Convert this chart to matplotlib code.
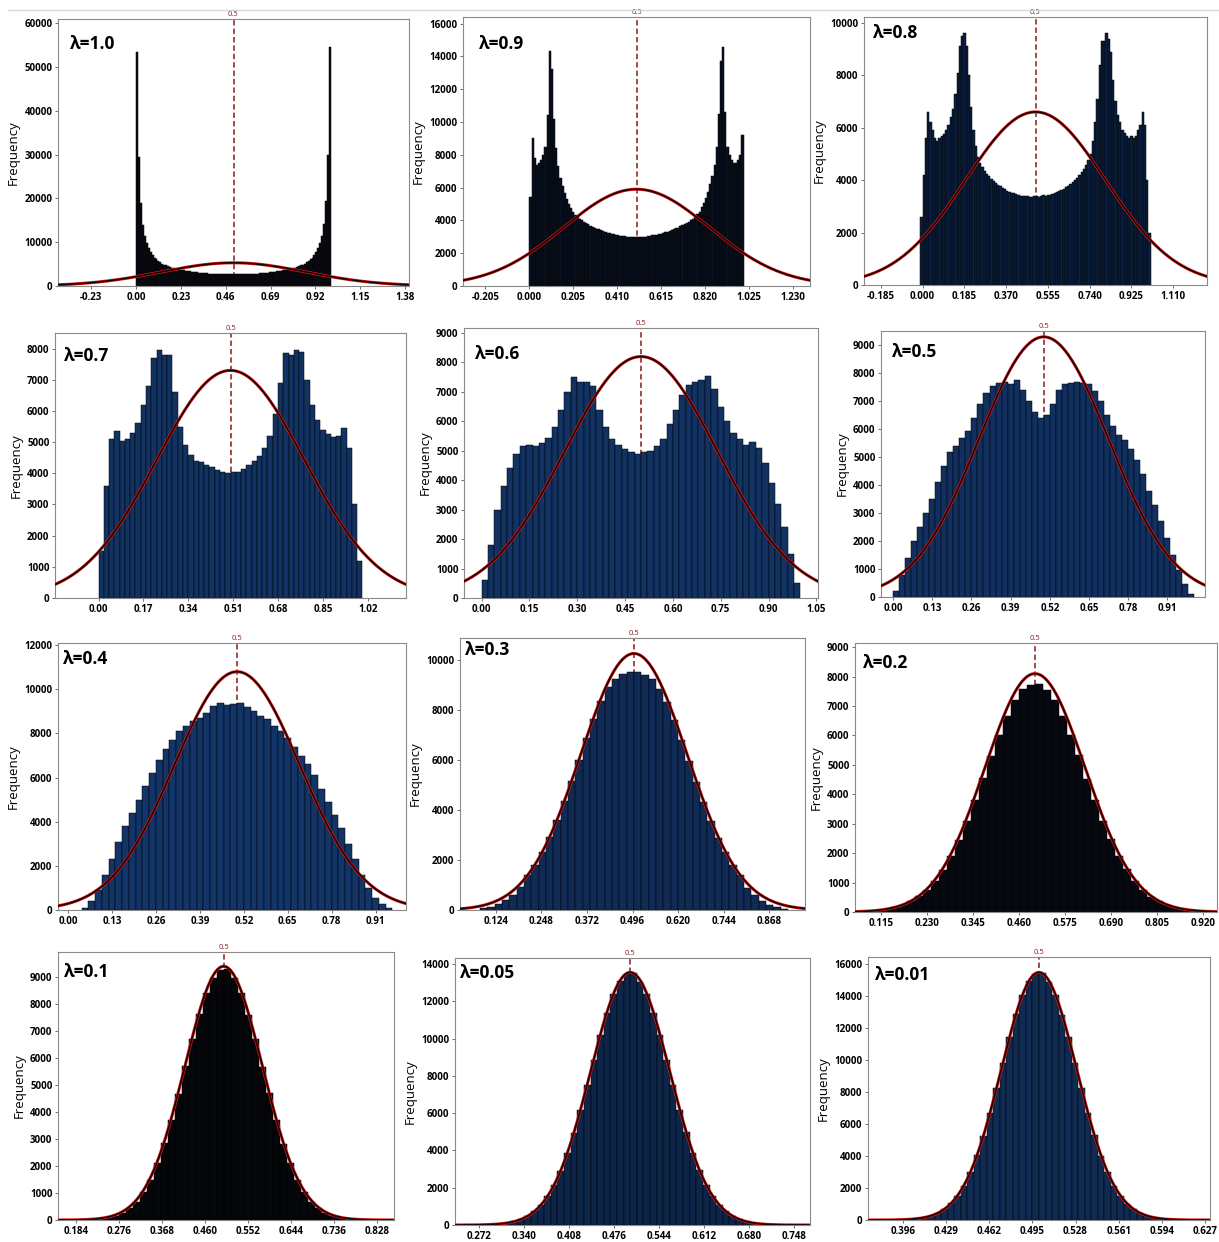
import numpy as np
import matplotlib.pyplot as plt
from matplotlib.lines import Line2D
from matplotlib.ticker import MultipleLocator, FormatStrFormatter

plt.rcParams['font.family'] = ['Open Sans', 'DejaVu Sans']
narrow = ['Liberation Sans Narrow', 'Open Sans', 'DejaVu Sans']

W, H = 1219, 1242

lambdas = ["1.0", "0.9", "0.8", "0.7", "0.6", "0.5",
           "0.4", "0.3", "0.2", "0.1", "0.05", "0.01"]

# first bin edge and bin width of each histogram
bin_start = [0.0, 0.0, -0.01, 0.0, 0.0, 0.0, 0.04, 0.08, 0.10, 0.20, 0.29, 0.395]
bin_width = [0.01, 0.01, 0.01, 0.02, 0.02, 0.02, 0.02, 0.02, 0.02, 0.015, 0.01, 0.005]

counts_10 = [53500, 29500, 19000, 14000, 11500, 9800, 8600, 7700, 7000, 6500,
             6100, 5700, 5400, 5100, 4900, 4700, 4500, 4350, 4200, 4050,
             3950, 3850, 3750, 3650, 3550, 3480, 3400, 3330, 3270, 3200,
             3150, 3100, 3050, 3000, 2960, 2920, 2880, 2850, 2820, 2790,
             2770, 2750, 2730, 2710, 2700, 2690, 2680, 2670, 2660, 2650,
             2640, 2650, 2660, 2670, 2690, 2700, 2710, 2730, 2750, 2770,
             2800, 2820, 2850, 2880, 2910, 2950, 3000, 3050, 3100, 3150,
             3200, 3260, 3330, 3400, 3470, 3550, 3640, 3740, 3840, 3950,
             4050, 4200, 4350, 4500, 4700, 4900, 5100, 5400, 5700, 6100,
             6500, 7000, 7700, 8600, 9800, 11500, 14200, 19500, 30000, 54500]

counts_09 = [5400, 9000, 7800, 7400, 7500, 7700, 8000, 8500, 10400, 14300,
             13200, 10200, 8400, 7300, 6600, 6100, 5700, 5300, 5000, 4750,
             4500, 4350, 4200, 4100, 4000, 3900, 3820, 3750, 3680, 3620,
             3560, 3500, 3450, 3400, 3350, 3300, 3260, 3220, 3180, 3150,
             3120, 3090, 3070, 3050, 3030, 3010, 3000, 2990, 2980, 2970,
             2980, 2970, 3000, 3010, 3000, 3040, 3050, 3080, 3090, 3130,
             3150, 3190, 3220, 3270, 3300, 3360, 3400, 3460, 3510, 3560,
             3630, 3690, 3760, 3830, 3910, 4010, 4110, 4220, 4360, 4520,
             4800, 5050, 5350, 5750, 6200, 6700, 7400, 8500, 10500, 13700,
             14600, 10600, 8500, 8000, 7700, 7500, 7500, 7700, 8000, 9200]

counts_08 = [2600, 4200, 5600, 6600, 6200, 5900, 5600, 5500, 5600, 5700,
             5750, 5900, 6100, 6400, 6700, 7300, 8100, 9100, 9500, 9600,
             9100, 8000, 6800, 5900, 5300, 4900, 4650, 4500, 4350, 4250,
             4150, 4050, 3980, 3900, 3830, 3760, 3700, 3650, 3600, 3560,
             3520, 3490, 3460, 3430, 3410, 3390, 3400, 3380, 3370, 3360,
             3380,
             3400, 3370, 3390, 3420, 3410, 3450, 3430, 3480, 3500, 3530,
             3570, 3610, 3660, 3720, 3780, 3850, 3920, 4000, 4080, 4180,
             4300, 4420, 4560, 4750, 5000, 5500, 6200, 7100, 8400, 9300,
             9300, 9600, 9400, 8900, 7800, 7000, 6500, 6200, 5900, 5800,
             5700, 5600, 5700, 5600, 5700, 5900, 6100, 6600, 6100, 4000,
             2000]

counts_07 = [1500, 3600, 5100, 5350, 5050, 5100, 5300, 5600, 6200, 6800,
             7700, 7950, 7800, 7800, 6600, 5500, 4900, 4600, 4400, 4350,
             4250, 4200, 4100, 4050, 4000, 4050, 4050, 4150, 4250, 4400,
             4550, 4800, 5200, 5900, 6900, 7850, 7800, 7950, 7900, 7000,
             6200, 5700, 5400, 5250, 5150, 5200, 5450, 4800, 3000, 1200]

counts_06 = [600, 1800, 3000, 3800, 4400, 4900, 5150, 5200, 5150, 5250,
             5450, 5800, 6400, 7000, 7500, 7350, 7350, 7200, 6400, 5800,
             5400, 5200, 5050, 4950, 4900, 4950, 5000, 5150, 5400, 5900,
             6400, 6900, 7250, 7350, 7400, 7550, 7100, 6500, 6000, 5600,
             5400, 5200, 5300, 5100, 4600, 3900, 3200, 2400, 1500, 500]

counts_05 = [200, 800, 1400, 2000, 2500, 3000, 3500, 4100, 4700, 5200,
             5400, 5700, 5950, 6400, 6900, 7300, 7550, 7650, 7700, 7600,
             7750, 7400, 7000, 6600, 6400, 6500, 6900, 7400, 7600, 7650,
             7700, 7650, 7600, 7350, 7000, 6500, 6100, 5800, 5600, 5300,
             4900, 4400, 3800, 3300, 2700, 2100, 1500, 950, 450, 120]

counts_04 = [100, 400, 900, 1600, 2300, 3100, 3800, 4400, 5000, 5600,
             6200, 6800, 7300, 7700, 8100, 8350, 8550, 8700, 8950, 9250,
             9400, 9300, 9350, 9400, 9200, 9000, 8800, 8650, 8350, 8100,
             7800, 7400, 7000, 6600, 6100, 5500, 4900, 4300, 3700, 3000,
             2300, 1600, 1000, 550, 250, 80]

counts_03 = [60, 120, 220, 380, 600, 900, 1390, 1810, 2320, 2910,
             3590, 4340, 5150, 6000, 6860, 7650, 8350, 8900, 9250, 9450,
             9500, 9500, 9400, 9250, 8850, 8300, 7600, 6800, 5950, 5100,
             4300, 3550, 2880, 2300, 1800, 1380, 880, 580, 360, 200,
             110, 50]

counts_02 = [60, 98, 155, 240, 360, 530, 755, 1060, 1440, 1900,
             2460, 3090, 3800, 4540, 5300, 6020, 6670, 7200, 7580, 7700,
             7750, 7560, 7220, 6650, 6000, 5320, 4520, 3820, 3080, 2470,
             1890, 1450, 1050, 760, 520, 360, 235, 150, 100, 55]

counts_01 = [10, 20, 45, 85, 150, 260, 430, 680, 1030, 1500,
             2100, 2840, 3700, 4680, 5700, 6700, 7620, 8400, 8960, 9260,
             9300, 8950, 8420, 7600, 6720, 5680, 4700, 3720, 2830, 2110,
             1490, 1040, 670, 430, 270, 150, 80, 45, 25, 10]

counts_005 = [40, 70, 120, 190, 310, 480, 730, 1070, 1540, 2150,
              2920, 3860, 4950, 6180, 7510, 8870, 10190, 11390, 12380, 13090,
              13450, 13500, 13050, 12400, 11350, 10200, 8850, 7520, 6150, 4970,
              3850, 2930, 2140, 1550, 1060, 740, 470, 300, 190, 115,
              70, 35]

counts_001 = [30, 55, 95, 160, 270, 430, 680, 1030, 1510, 2150,
              2990, 4030, 5260, 6670, 8220, 9820, 11400, 12840, 14030, 14890,
              15340, 15400, 14850, 14050, 12800, 11420, 9800, 8250, 6650, 5280,
              4000, 3000, 2140, 1520, 1020, 690, 420, 270, 160, 90,
              50, 25]

counts = [counts_10, counts_09, counts_08, counts_07, counts_06, counts_05,
          counts_04, counts_03, counts_02, counts_01, counts_005, counts_001]

# fitted normal curve: mean, height at the mean, standard deviation
fit_mean = 0.5
fit_peak = [5300, 5900, 6600, 7300, 8200, 9300, 10800, 10250, 8100, 9400, 13550, 15450]
fit_sigma = [0.37, 0.34, 0.31, 0.28, 0.24, 0.215, 0.186, 0.145, 0.125, 0.083, 0.06, 0.029]

xticks_all = [
    [-0.23, 0.00, 0.23, 0.46, 0.69, 0.92, 1.15, 1.38],
    [-0.205, 0.000, 0.205, 0.410, 0.615, 0.820, 1.025, 1.230],
    [-0.185, 0.000, 0.185, 0.370, 0.555, 0.740, 0.925, 1.110],
    [0.00, 0.17, 0.34, 0.51, 0.68, 0.85, 1.02],
    [0.00, 0.15, 0.30, 0.45, 0.60, 0.75, 0.90, 1.05],
    [0.00, 0.13, 0.26, 0.39, 0.52, 0.65, 0.78, 0.91],
    [0.00, 0.13, 0.26, 0.39, 0.52, 0.65, 0.78, 0.91],
    [0.124, 0.248, 0.372, 0.496, 0.620, 0.744, 0.868],
    [0.115, 0.230, 0.345, 0.460, 0.575, 0.690, 0.805, 0.920],
    [0.184, 0.276, 0.368, 0.460, 0.552, 0.644, 0.736, 0.828],
    [0.272, 0.340, 0.408, 0.476, 0.544, 0.612, 0.680, 0.748],
    [0.396, 0.429, 0.462, 0.495, 0.528, 0.561, 0.594, 0.627],
]
xtick_fmt = ["%.2f", "%.3f", "%.3f", "%.2f", "%.2f", "%.2f",
             "%.2f", "%.3f", "%.3f", "%.3f", "%.3f", "%.3f"]
xlims = [(-0.40, 1.40), (-0.31, 1.31), (-0.26, 1.26), (-0.165, 1.165),
         (-0.055, 1.055), (-0.04, 1.035), (-0.03, 1.0), (0.026, 0.966),
         (0.05, 0.955), (0.145, 0.865), (0.235, 0.772), (0.369, 0.631)]
ymax = [61000, 16400, 10220, 8500, 9170, 9510, 12100, 10870, 9140, 9930, 14320, 16410]
ystep = [10000, 2000, 2000, 1000, 1000, 1000, 2000, 2000, 1000, 1000, 2000, 2000]

# layout: panel boxes in pixels (left, top, right, bottom)
boxes = [(58, 19, 409, 286), (463, 17, 810, 286), (864, 17, 1207, 285),
         (55, 333, 406, 598), (464, 328, 818, 598), (881, 331, 1205, 597),
         (58, 643, 406, 910), (460, 638, 805, 910), (855, 643, 1217, 912),
         (58, 952, 394, 1220), (455, 958, 810, 1225), (868, 957, 1210, 1220)]
lam_pos = [(0.035, 0.905), (0.045, 0.9), (0.025, 0.94), (0.025, 0.915),
           (0.03, 0.905), (0.035, 0.92), (0.015, 0.94), (0.015, 0.955),
           (0.022, 0.925), (0.018, 0.925), (0.014, 0.945), (0.02, 0.93)]
bar_color = ['#0b0e16', '#0a1222', '#0c2142', '#123361', '#123361', '#113060',
             '#123466', '#0f2b55', '#05080e', '#040609', '#0d2548', '#0f2b52']

fig = plt.figure(figsize=(W / 100, H / 100), dpi=100)
fig.add_artist(Line2D([8 / W, 1], [1 - 10 / H, 1 - 10 / H], color='#d8d8d8', lw=1))

for i in range(12):
    l, t, r, b = boxes[i]
    ax = fig.add_axes([l / W, 1 - b / H, (r - l) / W, (b - t) / H])
    c = np.array(counts[i], dtype=float)
    edges = bin_start[i] + bin_width[i] * np.arange(len(c) + 1)

    ax.axvline(fit_mean, color='#8b1a1a', ls=(0, (3.5, 2)), lw=1.1, zorder=1)
    ax.bar(edges[:-1], c, width=bin_width[i], align='edge', color=bar_color[i],
           edgecolor='black', linewidth=0.35, zorder=2)

    xs = np.linspace(xlims[i][0], xlims[i][1], 400)
    ys = fit_peak[i] * np.exp(-0.5 * ((xs - fit_mean) / fit_sigma[i]) ** 2)
    ax.plot(xs, ys, color='#e01818', lw=2.2, zorder=3)
    ax.plot(xs, ys, color='#1a0303', lw=1.2, zorder=4)

    ax.set_xlim(xlims[i])
    ax.set_ylim(0, ymax[i])
    ax.set_xticks(xticks_all[i])
    ax.set_xticklabels([xtick_fmt[i] % v for v in xticks_all[i]])
    ax.yaxis.set_major_locator(MultipleLocator(ystep[i]))
    ax.yaxis.set_major_formatter(FormatStrFormatter('%d'))
    ax.tick_params(axis='both', labelsize=7, length=2.5, width=0.6,
                   color='#555555', pad=1.5)
    for lab in ax.get_xticklabels() + ax.get_yticklabels():
        lab.set_family(narrow)
        lab.set_fontweight('bold')
    for sp in ax.spines.values():
        sp.set_color('#8a8a8a')
        sp.set_linewidth(0.8)

    ax.set_ylabel('Frequency', fontsize=9.5, family=narrow, labelpad=3)
    ax.text(fit_mean, 1.004, '0.5', transform=ax.get_xaxis_transform(),
            ha='center', va='bottom', fontsize=5.5, color='#8b1a1a')
    ax.text(lam_pos[i][0], lam_pos[i][1], '\u03bb=' + lambdas[i], transform=ax.transAxes,
            fontsize=12.5, fontweight='bold', va='center', ha='left')

fig.savefig('out.png', dpi=100)
